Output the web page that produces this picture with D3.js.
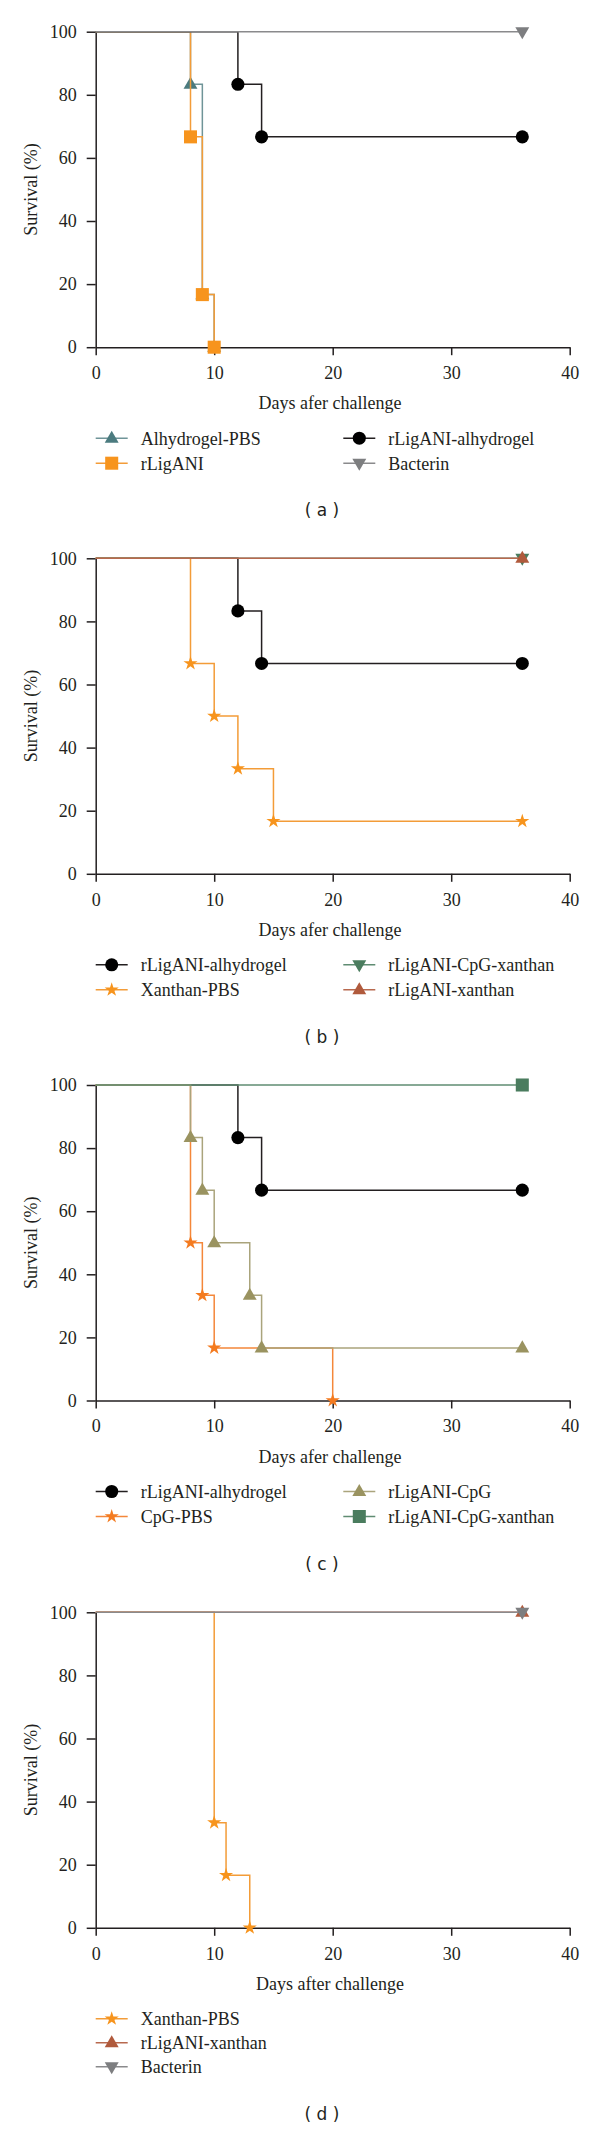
<!DOCTYPE html>
<html><head><meta charset="utf-8">
<script src="https://cdn.jsdelivr.net/npm/d3@7"></script>
<style>body{margin:0;background:#fff} svg{display:block}</style>
</head><body><svg id="c" width="600" height="2129"></svg>
<script>
// ---------- data ----------
const xTicks = [0, 10, 20, 30, 40];
const yTicks = [0, 20, 40, 60, 80, 100];
const xLabels = ["Days afer challenge", "Days afer challenge", "Days afer challenge", "Days after challenge"];
const yLabel = "Survival (%)";
const captions = ["( a )", "( b )", "( c )", "( d )"];

const alhydrogelPBSDays = [0, 8, 9, 10];
const alhydrogelPBSSurv = [100, 83.33, 16.67, 0];
const rLigANIDays = [0, 8, 9, 10];
const rLigANISurv = [100, 66.67, 16.67, 0];
const rLigANIAlhyDays = [0, 12, 14, 36];
const rLigANIAlhySurv = [100, 83.33, 66.67, 66.67];
const bacterinDays = [0, 36];
const bacterinSurv = [100, 100];
const xanthanPBSbDays = [0, 8, 10, 12, 15, 36];
const xanthanPBSbSurv = [100, 66.67, 50, 33.33, 16.67, 16.67];
const rLigANICpGXanthanDays = [0, 36];
const rLigANICpGXanthanSurv = [100, 100];
const rLigANIXanthanDays = [0, 36];
const rLigANIXanthanSurv = [100, 100];
const cpgPBSDays = [0, 8, 9, 10, 20];
const cpgPBSSurv = [100, 50, 33.33, 16.67, 0];
const rLigANICpGDays = [0, 8, 9, 10, 13, 14, 36];
const rLigANICpGSurv = [100, 83.33, 66.67, 50, 33.33, 16.67, 16.67];
const xanthanPBSdDays = [0, 10, 11, 13];
const xanthanPBSdSurv = [100, 33.33, 16.67, 0];

// ---------- styles ----------
const ST = {
  teal:   {line: "#6f9498", fill: "#4b7b7f"},
  orange: {line: "#f39c38", fill: "#f7941d"},
  black:  {line: "#231f20", fill: "#000000"},
  gray:   {line: "#8a8a8c", fill: "#7d7e80"},
  green:  {line: "#5f8c72", fill: "#4a7c5e"},
  brown:  {line: "#b8694e", fill: "#b05a3c"},
  orange2:{line: "#f4873a", fill: "#f47b20"},
  olive:  {line: "#aaa47c", fill: "#9a9360"}
};

const panels = [
  {cols: 2, series: [
    {name: "Alhydrogel-PBS", d: alhydrogelPBSDays, s: alhydrogelPBSSurv, st: ST.teal, sym: "up"},
    {name: "rLigANI", d: rLigANIDays, s: rLigANISurv, st: ST.orange, sym: "square"},
    {name: "rLigANI-alhydrogel", d: rLigANIAlhyDays, s: rLigANIAlhySurv, st: ST.black, sym: "circle"},
    {name: "Bacterin", d: bacterinDays, s: bacterinSurv, st: ST.gray, sym: "down"}
  ]},
  {cols: 2, series: [
    {name: "rLigANI-alhydrogel", d: rLigANIAlhyDays, s: rLigANIAlhySurv, st: ST.black, sym: "circle"},
    {name: "Xanthan-PBS", d: xanthanPBSbDays, s: xanthanPBSbSurv, st: ST.orange, sym: "star"},
    {name: "rLigANI-CpG-xanthan", d: rLigANICpGXanthanDays, s: rLigANICpGXanthanSurv, st: ST.green, sym: "down"},
    {name: "rLigANI-xanthan", d: rLigANIXanthanDays, s: rLigANIXanthanSurv, st: ST.brown, sym: "up"}
  ]},
  {cols: 2, series: [
    {name: "rLigANI-alhydrogel", d: rLigANIAlhyDays, s: rLigANIAlhySurv, st: ST.black, sym: "circle"},
    {name: "CpG-PBS", d: cpgPBSDays, s: cpgPBSSurv, st: ST.orange2, sym: "star"},
    {name: "rLigANI-CpG", d: rLigANICpGDays, s: rLigANICpGSurv, st: ST.olive, sym: "up"},
    {name: "rLigANI-CpG-xanthan", d: rLigANICpGXanthanDays, s: rLigANICpGXanthanSurv, st: ST.green, sym: "square"}
  ]},
  {cols: 1, series: [
    {name: "Xanthan-PBS", d: xanthanPBSdDays, s: xanthanPBSdSurv, st: ST.orange, sym: "star"},
    {name: "rLigANI-xanthan", d: rLigANIXanthanDays, s: rLigANIXanthanSurv, st: ST.brown, sym: "up"},
    {name: "Bacterin", d: bacterinDays, s: bacterinSurv, st: ST.gray, sym: "down"}
  ]}
];

// ---------- layout ----------
const panelTops = [31.7, 558.3, 1085, 1612.3];
const plotH = 315.5, left = 95.7, right = 569.7;
const serif = "'Liberation Serif','Times New Roman',serif";
const textCol = "#231f20";

const svg = d3.select("#c");

function symbolPath(sym) {
  if (sym === "circle") return d3.symbol(d3.symbolCircle, 135)();
  if (sym === "square") return d3.symbol(d3.symbolSquare, 170)();
  if (sym === "star") return d3.symbol(d3.symbolStar, 62)();
  return d3.symbol(d3.symbolTriangle, 84)();
}
function drawMarker(g, sym, x, y, color) {
  const rot = sym === "down" ? 180 : 0;
  const dy = (sym === "up" ? 0.5 : sym === "down" ? -0.5 : 0);
  g.append("path").attr("d", symbolPath(sym))
    .attr("transform", `translate(${x},${y + dy}) rotate(${rot})`)
    .attr("fill", color);
}

panels.forEach((p, pi) => {
  const top = panelTops[pi], bottom = top + plotH;
  const x = d3.scaleLinear().domain([0, 40]).range([left, right]);
  const y = d3.scaleLinear().domain([0, 100]).range([bottom, top]);
  const g = svg.append("g");

  // axes
  const xa = g.append("g").attr("transform", `translate(0,${bottom})`)
    .call(d3.axisBottom(x).tickValues(xTicks).tickSize(8).tickSizeOuter(0).tickPadding(11));
  const ya = g.append("g").attr("transform", `translate(${left},0)`)
    .call(d3.axisLeft(y).tickValues(yTicks).tickSize(9).tickSizeOuter(0).tickPadding(10));
  [xa, ya].forEach(a => {
    a.selectAll("path,line").attr("stroke", "#231f20").attr("stroke-width", 1.5);
    a.selectAll("text").attr("font-family", serif).attr("font-size", 18).attr("fill", textCol);
  });

  // labels
  g.append("text").attr("x", 330).attr("y", bottom + 62).attr("text-anchor", "middle")
    .attr("font-family", serif).attr("font-size", 18).attr("fill", textCol).text(xLabels[pi]);
  g.append("text").attr("transform", `translate(37,${(top + bottom) / 2}) rotate(-90)`)
    .attr("text-anchor", "middle").attr("font-family", serif).attr("font-size", 18)
    .attr("fill", textCol).text(yLabel);

  // series
  const line = d3.line().x(d => x(d[0])).y(d => y(d[1])).curve(d3.curveStepAfter);
  p.series.forEach(s => {
    const pts = s.d.map((d, i) => [d, s.s[i]]);
    g.append("path").attr("d", line(pts)).attr("fill", "none")
      .attr("stroke", s.st.line).attr("stroke-width", 1.5);
    pts.slice(1).forEach(pt => drawMarker(g, s.sym, x(pt[0]), y(pt[1]), s.st.fill));
  });

  // legend
  const rows = p.cols === 2 ? 2 : p.series.length;
  const rowStep = p.cols === 2 ? 25 : 24;
  p.series.forEach((s, i) => {
    const col = Math.floor(i / rows), row = i % rows;
    const lx = col === 0 ? 95.7 : 343.3;
    const ly = bottom + 91 + row * rowStep;
    g.append("line").attr("x1", lx).attr("x2", lx + 32).attr("y1", ly).attr("y2", ly)
      .attr("stroke", s.st.line).attr("stroke-width", 1.5);
    drawMarker(g, s.sym, lx + 16, ly, s.st.fill);
    g.append("text").attr("x", lx + 45).attr("y", ly + 6.5)
      .attr("font-family", serif).attr("font-size", 18).attr("fill", textCol).text(s.name);
  });

  // caption
  const capY = bottom + 91 + (rows - 1) * rowStep + 53;
  g.append("text").attr("x", 322).attr("y", capY).attr("text-anchor", "middle")
    .attr("font-family", "'DejaVu Sans',sans-serif").attr("font-size", 17)
    .attr("fill", textCol).text(captions[pi]);
});
</script></body></html>
